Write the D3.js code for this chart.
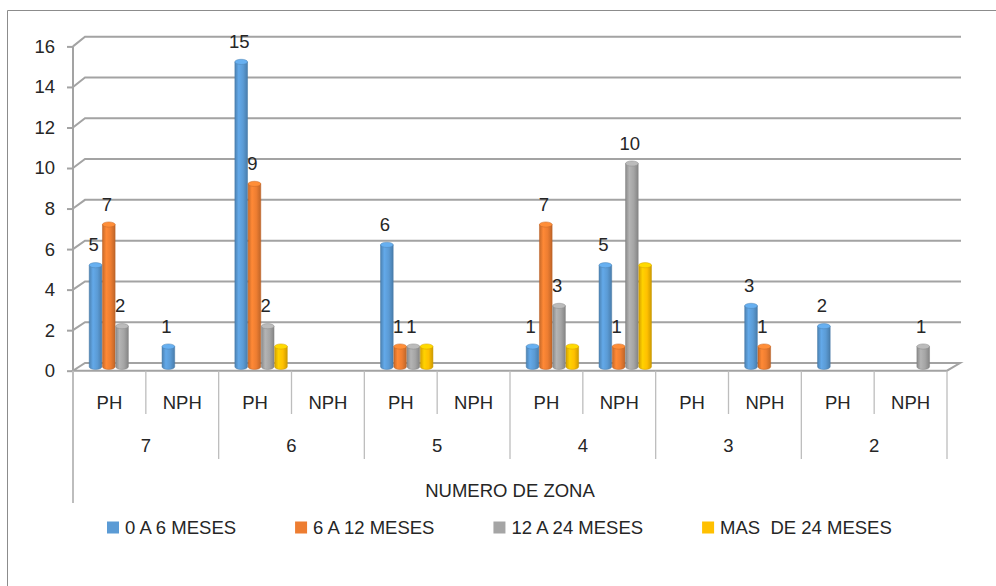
<!DOCTYPE html>
<html>
<head>
<meta charset="utf-8">
<script src="https://cdn.jsdelivr.net/npm/d3@7"></script>
<style>
  html, body { margin: 0; padding: 0; background: #fff; }
  svg text { font-family: "Liberation Sans", Arial, sans-serif; fill: #262626; }
</style>
</head>
<body>
<svg id="chart" width="996" height="586"></svg>
<script>
// ---- data ----
const zones = ["7", "6", "5", "4", "3", "2"];
const subTypes = ["PH", "NPH"];
const seriesNames = ["0 A 6 MESES", "6 A 12 MESES", "12 A 24 MESES", "MAS  DE 24 MESES"];
const seriesColors = ["#5B9BD5", "#ED7D31", "#A5A5A5", "#FFC000"];
// values per (zone, PH/NPH) slot, in zone order 7..2, PH then NPH
const months0to6   = [5, 1, 15, null, 6, null, 1, 5, null, 3, 2, null];
const months6to12  = [7, null, 9, null, 1, null, 7, 1, null, 1, null, null];
const months12to24 = [2, null, 2, null, 1, null, 3, 10, null, null, null, 1];
const monthsOver24 = [null, null, 1, null, 1, null, 1, 5, null, null, null, null];
const seriesValues = [months0to6, months6to12, months12to24, monthsOver24];
const seriesLabelled = [true, true, true, false];
const yTicks = [0, 2, 4, 6, 8, 10, 12, 14, 16];
const axisTitle = "NUMERO DE ZONA";

// ---- layout ----
const svg = d3.select("#chart");
const left = 73, right = 947;
const depthX = 12;
const slots = zones.flatMap(z => subTypes.map(s => z + "|" + s));

const yFront = d3.scaleLinear().domain([0, 16]).range([370.7, 46.4]);
const yBack  = d3.scaleLinear().domain([0, 16]).range([363, 36.7]);
const yMid = v => (yFront(v) + yBack(v)) / 2;

const xZone = d3.scaleBand().domain(zones).range([left, right]).padding(0);
const xSlot = d3.scaleBand().domain(slots).range([left, right]).padding(0);
const barW = xSlot.bandwidth() * 0.182;
const xSeries = d3.scaleBand().domain(d3.range(4)).range([-2 * barW, 2 * barW]).padding(0);

// outer frame
svg.append("path")
  .attr("d", "M7.5,600 L7.5,10.5 L1000,10.5")
  .attr("fill", "none").attr("stroke", "#8c8c8c").attr("stroke-width", 1);

const grid = svg.append("g");
const gridColor = "#a3a3a3";

// back wall gridlines with the slanted side-wall segment
yTicks.forEach(t => {
  const yf = yFront(t), yb = yBack(t);
  if (t === 0) return;
  grid.append("path")
    .attr("d", `M${left},${yf} L${left + depthX},${yb} L${right + 14},${yb}`)
    .attr("fill", "none").attr("stroke", gridColor).attr("stroke-width", 2);
});

// floor
grid.append("path")
  .attr("d", `M${left + depthX},${yBack(0)} L${right + 13},${yBack(0)} L${right},${yFront(0)} L${left},${yFront(0)} Z`)
  .attr("fill", "none").attr("stroke", gridColor).attr("stroke-width", 2);

// value axis
const yAxis = d3.axisLeft(yFront).tickValues(yTicks).tickSize(6).tickPadding(12);
const ya = svg.append("g").attr("transform", `translate(${left},0)`).call(yAxis);
ya.select(".domain").remove();
ya.selectAll(".tick line").attr("stroke", gridColor).attr("stroke-width", 2);
ya.selectAll(".tick text").attr("font-size", "18.5px").attr("fill", "#262626")
  .style("font-family", "'Liberation Sans', Arial, sans-serif");

// vertical axis line on the front-left edge
svg.append("line")
  .attr("x1", left).attr("x2", left).attr("y1", yFront(16)).attr("y2", yFront(0))
  .attr("stroke", gridColor).attr("stroke-width", 2);

// category axis divider lines
const cat = svg.append("g");
const catColor = "#bdbdbd";
zones.forEach((z, i) => {
  const x0 = xZone(z);
  const xm = xSlot(z + "|NPH");
  cat.append("line").attr("x1", xm).attr("x2", xm).attr("y1", yFront(0)).attr("y2", 414)
    .attr("stroke", catColor).attr("stroke-width", 1.3);
  cat.append("line").attr("x1", x0).attr("x2", x0).attr("y1", yFront(0)).attr("y2", i === 0 ? 503 : 459)
    .attr("stroke", catColor).attr("stroke-width", i === 0 ? 2 : 1.3);
});
cat.append("line").attr("x1", right).attr("x2", right).attr("y1", yFront(0)).attr("y2", 459)
  .attr("stroke", catColor).attr("stroke-width", 1.3);

// sub-category labels
slots.forEach(s => {
  cat.append("text")
    .attr("x", xSlot(s) + xSlot.bandwidth() / 2).attr("y", 409)
    .attr("text-anchor", "middle").attr("font-size", "18.5px")
    .text(s.split("|")[1]);
});
// zone labels
zones.forEach(z => {
  cat.append("text")
    .attr("x", xZone(z) + xZone.bandwidth() / 2).attr("y", 452)
    .attr("text-anchor", "middle").attr("font-size", "18.5px")
    .text(z);
});
// axis title
svg.append("text")
  .attr("x", (left + right) / 2).attr("y", 497)
  .attr("text-anchor", "middle").attr("font-size", "18.5px")
  .text(axisTitle);

// ---- cylinder bars ----
const defs = svg.append("defs");
seriesColors.forEach((c, i) => {
  const base = d3.color(c);
  const g = defs.append("linearGradient").attr("id", "cyl" + i)
    .attr("x1", 0).attr("x2", 1).attr("y1", 0).attr("y2", 0);
  g.append("stop").attr("offset", "0%").attr("stop-color", base.darker(0.5));
  g.append("stop").attr("offset", "30%").attr("stop-color", base.brighter(0.25));
  g.append("stop").attr("offset", "65%").attr("stop-color", base);
  g.append("stop").attr("offset", "100%").attr("stop-color", base.darker(0.6));
});

const bars = svg.append("g");
const labels = svg.append("g");
const ry = 2.6;
slots.forEach((s, si) => {
  const cx = xSlot(s) + xSlot.bandwidth() / 2 + depthX / 2;
  seriesValues.forEach((vals, k) => {
    const v = vals[si];
    if (v == null) return;
    const x = cx + xSeries(k) + 0.3;
    const w = xSeries.bandwidth() - 0.6;
    const yTop = yMid(v), yBot = yMid(0);
    const base = d3.color(seriesColors[k]);
    const g = bars.append("g");
    // body with rounded bottom
    g.append("path")
      .attr("d", `M${x},${yTop} L${x},${yBot} A${w / 2},${ry} 0 0 0 ${x + w},${yBot} L${x + w},${yTop} Z`)
      .attr("fill", `url(#cyl${k})`)
      .attr("stroke", base.darker(0.7)).attr("stroke-width", 0.5);
    // top cap
    g.append("ellipse")
      .attr("cx", x + w / 2).attr("cy", yTop).attr("rx", w / 2).attr("ry", ry)
      .attr("fill", base.brighter(0.35))
      .attr("stroke", base.darker(0.5)).attr("stroke-width", 0.5);
    if (seriesLabelled[k]) {
      labels.append("text")
        .attr("x", x + w / 2 - 2).attr("y", yTop - 14)
        .attr("text-anchor", "middle").attr("font-size", "18.5px")
        .text(v);
    }
  });
});

// ---- legend ----
const legend = svg.append("g");
let lx = 107;
seriesNames.forEach((n, i) => {
  legend.append("rect").attr("x", lx).attr("y", 521.5).attr("width", 12).attr("height", 12)
    .attr("fill", seriesColors[i]);
  const t = legend.append("text").attr("x", lx + 18).attr("y", 534)
    .attr("font-size", "18.5px").style("white-space", "pre")
    .text(n);
  lx += 18 + t.node().getComputedTextLength() + 59;
});
</script>
</body>
</html>
